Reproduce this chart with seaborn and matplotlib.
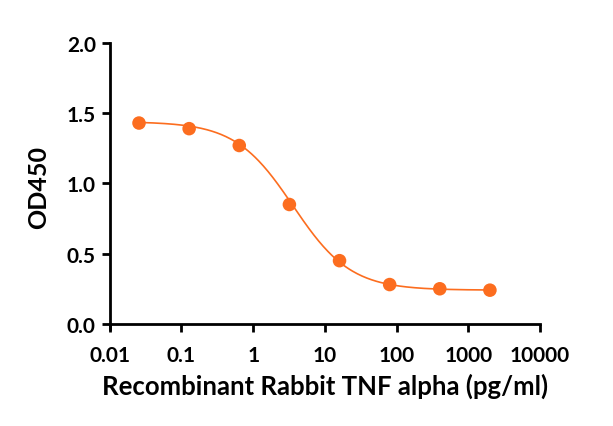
import numpy as np
import pandas as pd
import matplotlib
matplotlib.use("Agg")
import matplotlib.pyplot as plt
import seaborn as sns
from matplotlib.ticker import FixedLocator, FixedFormatter, NullLocator

# data
conc = [0.0256, 0.128, 0.64, 3.2, 16, 80, 400, 2000]
od450 = [1.43, 1.39, 1.27, 0.85, 0.45, 0.28, 0.25, 0.24]

# 4PL fit parameters
fit_top = 1.44
fit_bottom = 0.24
fit_ec50 = 3.6
fit_hill = 1.08

xticks = [0.01, 0.1, 1, 10, 100, 1000, 10000]
xtick_labels = ["0.01", "0.1", "1", "10", "100", "1000", "10000"]
yticks = [0.0, 0.5, 1.0, 1.5, 2.0]

orange = "#fc6d1f"

df = pd.DataFrame({"conc": conc, "od": od450})
xs = np.logspace(np.log10(conc[0]), np.log10(conc[-1]), 300)
curve = pd.DataFrame({"conc": xs,
                      "od": fit_bottom + (fit_top - fit_bottom) / (1 + (xs / fit_ec50) ** fit_hill)})

sns.set_style("ticks")
plt.rcParams['font.family'] = ['Lato', 'DejaVu Sans']
plt.rcParams['font.weight'] = 'bold'
plt.rcParams['text.color'] = 'black'
plt.rcParams['axes.labelcolor'] = 'black'
plt.rcParams['xtick.color'] = 'black'
plt.rcParams['ytick.color'] = 'black'

fig = plt.figure(figsize=(6.13, 4.27), dpi=100)
ax = fig.add_axes([0.179, 0.226, 0.702, 0.671])

sns.lineplot(x="conc", y="od", data=curve, color=orange, linewidth=1.2, ax=ax)
sns.scatterplot(x="conc", y="od", data=df, color=orange, s=95, edgecolor="none", zorder=3, ax=ax)

ax.set_xscale("log")
ax.set_xlim(0.01, 10000)
ax.set_ylim(-0.04, 2.0)
ax.spines['bottom'].set_position(('data', 0))
ax.spines['right'].set_visible(False)
ax.spines['top'].set_visible(False)
for s in ['left', 'bottom']:
    ax.spines[s].set_linewidth(2)
    ax.spines[s].set_color("black")

ax.xaxis.set_major_locator(FixedLocator(xticks))
ax.xaxis.set_major_formatter(FixedFormatter(xtick_labels))
ax.xaxis.set_minor_locator(NullLocator())
ax.set_yticks(yticks)
ax.set_yticklabels(["%.1f" % v for v in yticks])
ax.tick_params(axis='both', width=2, length=6, labelsize=15)
ax.tick_params(axis='x', pad=9)
ax.tick_params(axis='y', pad=4)
for lab in ax.get_xticklabels() + ax.get_yticklabels():
    lab.set_fontweight('bold')

ax.set_xlabel("Recombinant Rabbit TNF alpha (pg/ml)", fontsize=18.5, fontweight='bold', labelpad=6)
ax.set_ylabel("OD450", fontsize=18, fontweight='bold', labelpad=12)

fig.savefig("out.png", dpi=100)
